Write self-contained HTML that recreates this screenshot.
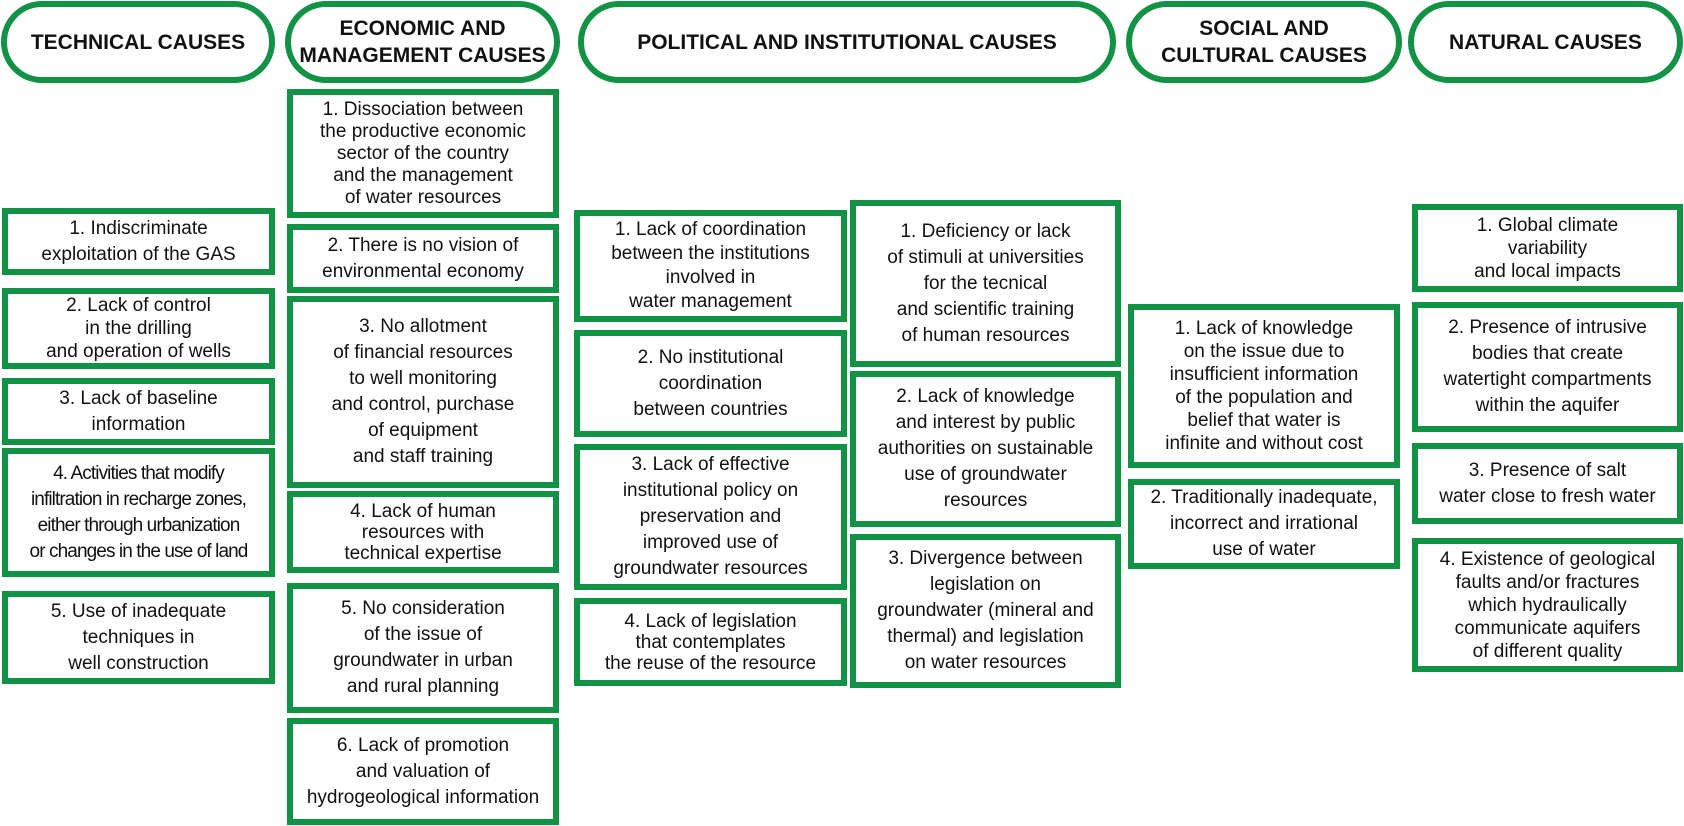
<!DOCTYPE html>
<html><head><meta charset="utf-8"><style>
body{margin:0;width:1684px;height:826px;background:#fff;position:relative;overflow:hidden;font-family:"Liberation Sans",Arial,sans-serif;color:#111}
.p{position:absolute;box-sizing:border-box;border:6px solid #119245;border-radius:42px;display:flex;align-items:center;justify-content:center;text-align:center;font-weight:bold;font-size:21px;line-height:27px;top:1px;height:82px}
.b{position:absolute;box-sizing:border-box;border:6px solid #119245;display:flex;align-items:center;justify-content:center;text-align:center;font-size:19px;line-height:26px;padding:0 4px}
</style></head><body>
<div class="p" style="left:1px;width:274px">TECHNICAL CAUSES</div>
<div class="p" style="left:285px;width:275px">ECONOMIC AND<br>MANAGEMENT CAUSES</div>
<div class="p" style="left:578px;width:538px">POLITICAL AND INSTITUTIONAL CAUSES</div>
<div class="p" style="left:1126px;width:276px">SOCIAL AND<br>CULTURAL CAUSES</div>
<div class="p" style="left:1408px;width:275px">NATURAL CAUSES</div>

<div class="b" style="left:2px;top:208px;width:273px;height:67px">1. Indiscriminate<br>exploitation of the GAS</div>
<div class="b" style="left:2px;top:288px;width:273px;height:81px;line-height:23px">2. Lack of control<br>in the drilling<br>and operation of wells</div>
<div class="b" style="left:2px;top:378px;width:273px;height:67px">3. Lack of baseline<br>information</div>
<div class="b" style="left:2px;top:448px;width:273px;height:129px;font-size:19px;letter-spacing:-0.9px;padding:0 1px">4. Activities that modify<br>infiltration in recharge zones,<br>either through urbanization<br>or changes in the use of land</div>
<div class="b" style="left:2px;top:591px;width:273px;height:93px">5. Use of inadequate<br>techniques in<br>well construction</div>

<div class="b" style="left:287px;top:89px;width:272px;height:129px;line-height:22px">1. Dissociation between<br>the productive economic<br>sector of the country<br>and the management<br>of water resources</div>
<div class="b" style="left:287px;top:224px;width:272px;height:69px">2. There is no vision of<br>environmental economy</div>
<div class="b" style="left:287px;top:296px;width:272px;height:192px">3. No allotment<br>of financial resources<br>to well monitoring<br>and control, purchase<br>of equipment<br>and staff training</div>
<div class="b" style="left:287px;top:491px;width:272px;height:82px;line-height:21px">4. Lack of human<br>resources with<br>technical expertise</div>
<div class="b" style="left:287px;top:583px;width:272px;height:130px">5. No consideration<br>of the issue of<br>groundwater in urban<br>and rural planning</div>
<div class="b" style="left:287px;top:718px;width:272px;height:107px">6. Lack of promotion<br>and valuation of<br>hydrogeological information</div>

<div class="b" style="left:574px;top:210px;width:273px;height:112px;line-height:24px">1. Lack of coordination<br>between the institutions<br>involved in<br>water management</div>
<div class="b" style="left:574px;top:330px;width:273px;height:107px">2. No institutional<br>coordination<br>between countries</div>
<div class="b" style="left:574px;top:444px;width:273px;height:146px">3. Lack of effective<br>institutional policy on<br>preservation and<br>improved use of<br>groundwater resources</div>
<div class="b" style="left:574px;top:598px;width:273px;height:88px;line-height:21px">4. Lack of legislation<br>that contemplates<br>the reuse of the resource</div>

<div class="b" style="left:850px;top:200px;width:271px;height:167px">1. Deficiency or lack<br>of stimuli at universities<br>for the tecnical<br>and scientific training<br>of human resources</div>
<div class="b" style="left:850px;top:371px;width:271px;height:156px">2. Lack of knowledge<br>and interest by public<br>authorities on sustainable<br>use of groundwater<br>resources</div>
<div class="b" style="left:850px;top:534px;width:271px;height:154px">3. Divergence between<br>legislation on<br>groundwater (mineral and<br>thermal) and legislation<br>on water resources</div>

<div class="b" style="left:1128px;top:304px;width:272px;height:164px;line-height:23px">1. Lack of knowledge<br>on the issue due to<br>insufficient information<br>of the population and<br>belief that water is<br>infinite and without cost</div>
<div class="b" style="left:1128px;top:479px;width:272px;height:90px">2. Traditionally inadequate,<br>incorrect and irrational<br>use of water</div>

<div class="b" style="left:1412px;top:204px;width:271px;height:88px;line-height:23px">1. Global climate<br>variability<br>and local impacts</div>
<div class="b" style="left:1412px;top:302px;width:271px;height:130px">2. Presence of intrusive<br>bodies that create<br>watertight compartments<br>within the aquifer</div>
<div class="b" style="left:1412px;top:443px;width:271px;height:81px">3. Presence of salt<br>water close to fresh water</div>
<div class="b" style="left:1412px;top:538px;width:271px;height:134px;line-height:23px">4. Existence of geological<br>faults and/or fractures<br>which hydraulically<br>communicate aquifers<br>of different quality</div>
</body></html>
